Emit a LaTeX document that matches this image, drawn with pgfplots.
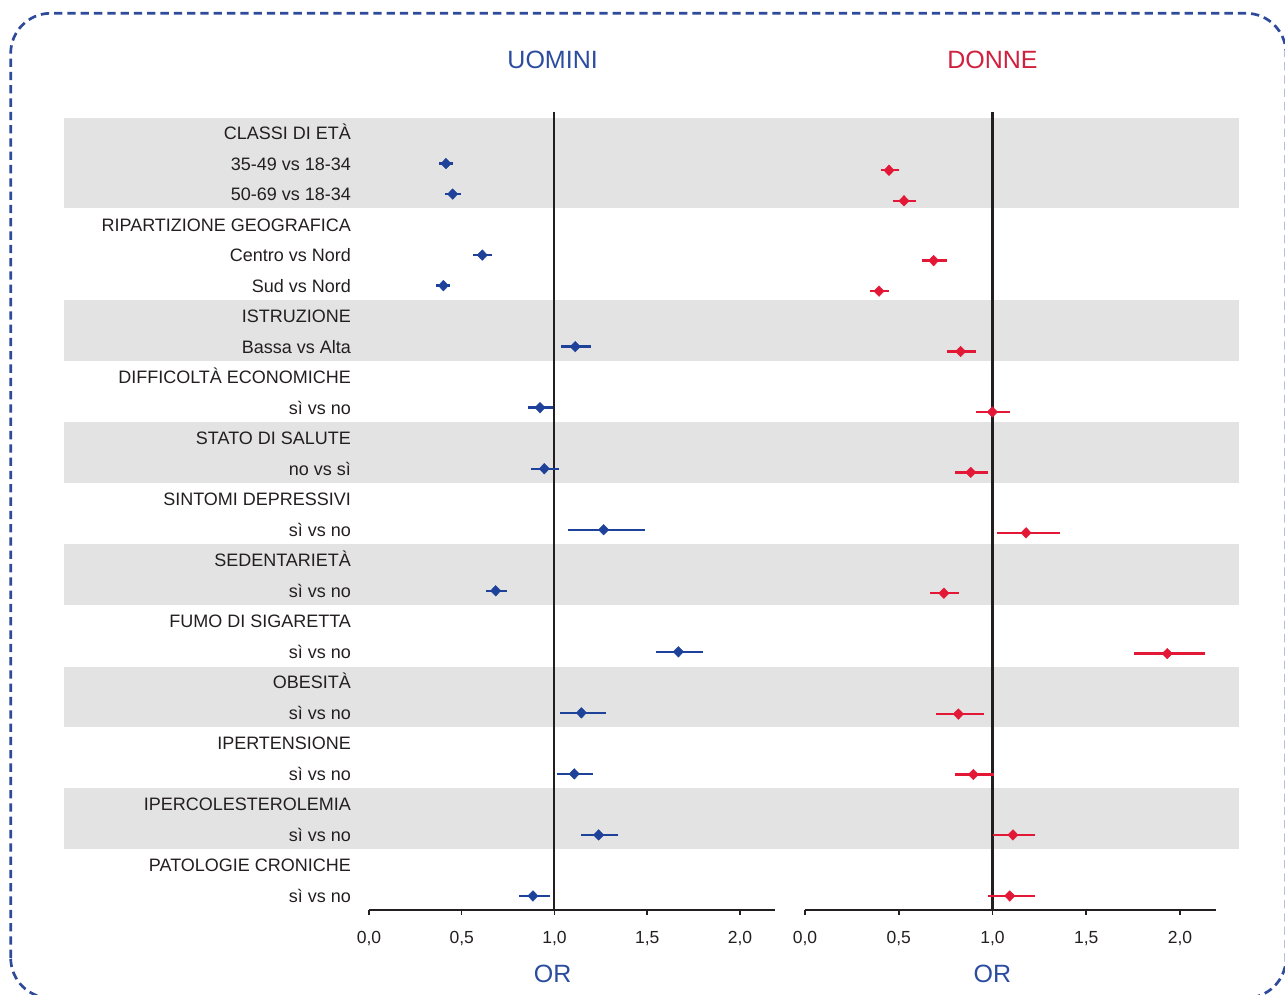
\documentclass[border=0pt]{standalone}
\usepackage{pgfplots}
\pgfplotsset{compat=1.18}
\usepackage{pgfplotstable}
\usepackage{fontspec}
\setmainfont{Liberation Sans}
\definecolor{myblue}{RGB}{30,66,153}
\definecolor{myred}{RGB}{226,24,54}
\definecolor{titleblue}{RGB}{43,76,159}
\definecolor{titlered}{RGB}{208,33,62}
\definecolor{band}{RGB}{227,227,227}
\definecolor{bordercol}{RGB}{46,74,154}
\definecolor{txt}{RGB}{35,31,32}

\pgfplotstableread{
r or lo hi
1 0.415 0.377 0.451
2 0.451 0.410 0.494
4 0.611 0.562 0.663
5 0.401 0.363 0.438
7 1.112 1.035 1.197
9 0.922 0.857 0.994
11 0.945 0.872 1.026
13 1.265 1.074 1.490
15 0.683 0.629 0.746
17 1.668 1.549 1.799
19 1.145 1.031 1.276
21 1.107 1.015 1.206
23 1.238 1.145 1.344
25 0.884 0.809 0.974
}\uomini

\pgfplotstableread{
r or lo hi
1.22 0.448 0.404 0.500
2.22 0.528 0.469 0.590
4.18 0.686 0.622 0.757
5.18 0.395 0.348 0.450
7.16 0.830 0.757 0.914
9.14 0.999 0.914 1.093
11.12 0.884 0.800 0.974
13.10 1.179 1.022 1.358
15.08 0.741 0.668 0.823
17.06 1.932 1.755 2.132
19.04 0.818 0.700 0.953
21.02 0.898 0.802 1.006
23.00 1.109 1.003 1.228
25.00 1.092 0.978 1.228
}\donne

\pgfplotsset{
  panel/.style={
    scale only axis, height=798pt,
    xmin=0, xmax=2.19, ymin=-25.46, ymax=0.69,
    clip=false, set layers,
    axis x line*=bottom,
    x axis line style={line width=1.8pt, txt},
    xtick={0,0.5,1,1.5,2},
    tick align=outside,
    major tick length=5pt,
    xtick style={line width=1.5pt, txt},
    xticklabel style={font=\fontsize{17.5}{20}\selectfont, text=txt, yshift=-13pt},
    /pgf/number format/.cd, use comma, fixed, fixed zerofill, precision=1, assume math mode=true,
  },
}

\begin{document}
\begin{tikzpicture}
% ---------------- UOMINI ----------------
\begin{axis}[panel, width=406.2pt, at={(369pt,85pt)}, anchor=south west,
  axis y line*=left,
  y axis line style={draw=none},
  ytick style={draw=none},
  ytick={-25,-24,...,0},
  yticklabels={sì vs no, PATOLOGIE CRONICHE, sì vs no, IPERCOLESTEROLEMIA, sì vs no, IPERTENSIONE, sì vs no, OBESITÀ, sì vs no, FUMO DI SIGARETTA, sì vs no, SEDENTARIETÀ, sì vs no, SINTOMI DEPRESSIVI, no vs sì, STATO DI SALUTE, sì vs no, DIFFICOLTÀ ECONOMICHE, Bassa vs Alta, ISTRUZIONE, Sud vs Nord, Centro vs Nord, RIPARTIZIONE GEOGRAFICA, 50-69 vs 18-34, 35-49 vs 18-34, CLASSI DI ETÀ},
  yticklabel style={font=\fontsize{18}{20}\selectfont, text=txt, anchor=east, text height=12.9pt, text depth=0pt, xshift=-9.5pt},
]
\begin{pgfonlayer}{axis background}
\fill[band] (axis cs:-1.644,0.5) rectangle (axis cs:4.69,-2.46);
\fill[band] (axis cs:-1.644,-5.47) rectangle (axis cs:4.69,-7.46);
\fill[band] (axis cs:-1.644,-9.47) rectangle (axis cs:4.69,-11.46);
\fill[band] (axis cs:-1.644,-13.47) rectangle (axis cs:4.69,-15.46);
\fill[band] (axis cs:-1.644,-17.5) rectangle (axis cs:4.69,-19.46);
\fill[band] (axis cs:-1.644,-21.47) rectangle (axis cs:4.69,-23.46);
\end{pgfonlayer}
\draw[line width=2pt, txt] (axis cs:1,0.69) -- (axis cs:1,-25.46);
\addplot[only marks, mark=diamond*, mark size=5.3pt, color=myblue, mark options={xscale=1.3},
  error bars/.cd, x dir=both, x explicit, error mark=none,
  error bar style={line width=2.4pt, myblue}]
  table[x=or, y expr=-\thisrow{r}, x error plus expr=\thisrow{hi}-\thisrow{or}, x error minus expr=\thisrow{or}-\thisrow{lo}] {\uomini};
\node[anchor=base, font=\fontsize{25}{28}\selectfont, text=titleblue] at (axis cs:0.99,2.13) {UOMINI};
\node[anchor=base, font=\fontsize{25}{28}\selectfont, text=titleblue] at (axis cs:0.99,-27.83) {OR};
\end{axis}

% ---------------- DONNE ----------------
\begin{axis}[panel, width=410.6pt, at={(805pt,85pt)}, anchor=south west,
  axis y line=none, ytick=\empty,
]
\draw[line width=2pt, txt] (axis cs:1,0.69) -- (axis cs:1,-25.46);
\addplot[only marks, mark=diamond*, mark size=5.3pt, color=myred, mark options={xscale=1.3},
  error bars/.cd, x dir=both, x explicit, error mark=none,
  error bar style={line width=2.4pt, myred}]
  table[x=or, y expr=-\thisrow{r}, x error plus expr=\thisrow{hi}-\thisrow{or}, x error minus expr=\thisrow{or}-\thisrow{lo}] {\donne};
\node[anchor=base, font=\fontsize{25}{28}\selectfont, text=titlered] at (axis cs:1,2.13) {DONNE};
\node[anchor=base, font=\fontsize{25}{28}\selectfont, text=titleblue] at (axis cs:1,-27.83) {OR};
\end{axis}

\draw[overlay, bordercol, line width=2.7pt, dash pattern=on 8.3pt off 5pt, rounded corners=40pt]
  (10.7pt,-3pt) rectangle (1286pt,981.7pt);
\path (0,0) rectangle (1285pt,995pt);
\end{tikzpicture}
\end{document}
